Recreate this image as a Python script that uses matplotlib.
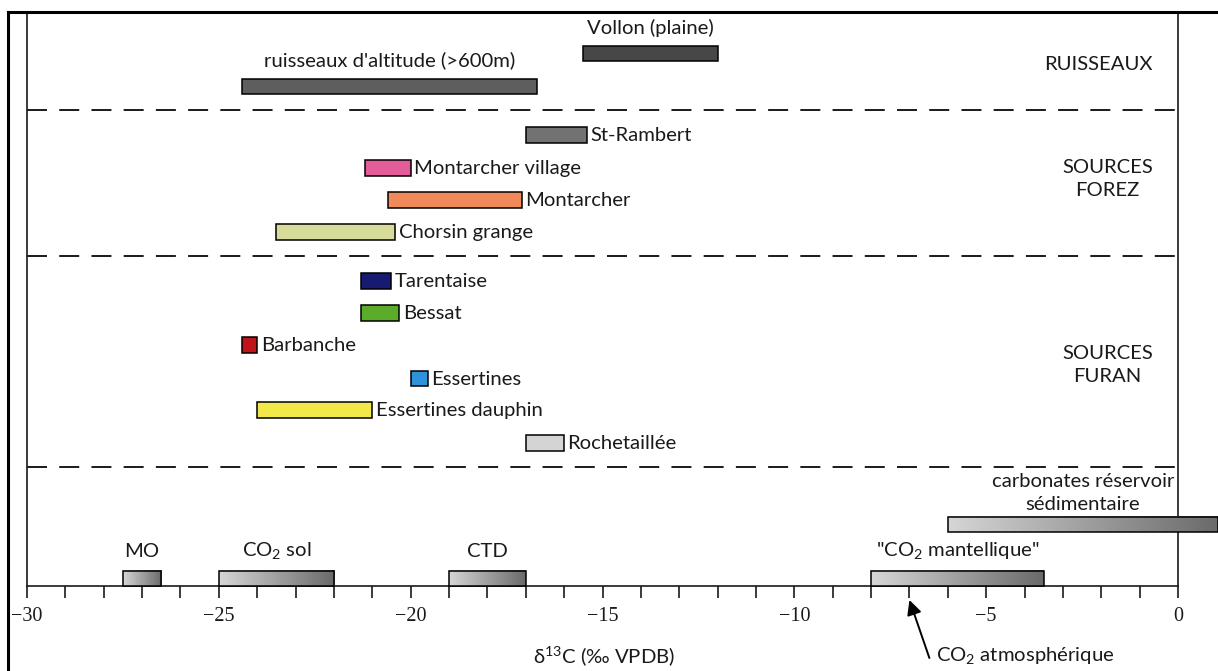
import matplotlib
matplotlib.use("Agg")
import matplotlib.pyplot as plt
import numpy as np
from matplotlib.patches import Rectangle
from matplotlib.lines import Line2D
from matplotlib.colors import LinearSegmentedColormap

plt.rcParams['font.family'] = ['Lato', 'DejaVu Sans']
plt.rcParams['lines.scale_dashes'] = False

# delta13C ranges (per mil VPDB): lower and upper bound of each site
stream_names = ["Vollon (plaine)", "ruisseaux d'altitude (>600m)"]
stream_lo = [-15.5, -24.4]
stream_hi = [-12.0, -16.7]

forez_names = ["St-Rambert", "Montarcher village", "Montarcher", "Chorsin grange"]
forez_lo = [-17.0, -21.2, -20.6, -23.5]
forez_hi = [-15.4, -20.0, -17.1, -20.4]

furan_names = ["Tarentaise", "Bessat", "Barbanche", "Essertines",
               "Essertines dauphin", "Rochetaillée"]
furan_lo = [-21.3, -21.3, -24.4, -20.0, -24.0, -17.0]
furan_hi = [-20.5, -20.3, -24.0, -19.55, -21.0, -16.0]

# reference carbon pools
ref_names = ["MO", "CO$_\\mathregular{2}$ sol", "CTD",
             "\"CO$_\\mathregular{2}$ mantellique\"",
             "carbonates réservoir\nsédimentaire"]
ref_lo = [-27.5, -25.0, -19.0, -8.0, -6.0]
ref_hi = [-26.5, -22.0, -17.0, -3.5, 1.05]

atmospheric_co2 = -7.0
x_ticks = list(range(-30, 1, 5))

group_names = ["RUISSEAUX", "SOURCES\nFOREZ", "SOURCES\nFURAN"]

# styling
stream_colors = ["#474747", "#5e5e5e"]
forez_colors = ["#727272", "#e25c9a", "#f08a5a", "#d8dc9a"]
furan_colors = ["#161a70", "#5aac2a", "#c01418", "#2f93dc", "#f2e84a", "#d4d4d4"]
text_color = "#1a1a1a"

# vertical layout, in pixel rows from the top of the figure
stream_y = [53.5, 86.5]
forez_y = [135, 168, 200, 232]
furan_y = [281, 313, 345, 378.5, 410, 443]
ref_y = [578.5, 578.5, 578.5, 578.5, 524.5]
group_y = [64, 179, 365]
divider_y = [110, 256, 467]
bar_h = 15.5

W, H = 1218, 671
fig = plt.figure(figsize=(W / 100, H / 100), dpi=100)
left_px, right_px = 27, 1178
top_px, axis_px = 12, 586
ax = fig.add_axes([left_px / W, 1 - axis_px / H,
                   (right_px - left_px) / W, (axis_px - top_px) / H])

LABEL_FS = 14.6
LINE_SP = 1.38


def labelled_bars(names, lo, hi, ys, colors):
    for n, a, b, y, c in zip(names, lo, hi, ys, colors):
        ax.barh(y, b - a, left=a, height=bar_h, color=c,
                edgecolor="black", linewidth=1.1, zorder=3)
        ax.annotate(n, xy=(b, y), xytext=(2.5, -0.5), textcoords="offset points",
                    ha="left", va="center", fontsize=LABEL_FS, color=text_color)


# stream bars carry their label above
for n, a, b, y, c in zip(stream_names, stream_lo, stream_hi, stream_y, stream_colors):
    ax.barh(y, b - a, left=a, height=bar_h, color=c,
            edgecolor="black", linewidth=1.1, zorder=3)
    ax.text((a + b) / 2, y - 26, n, ha="center", va="center",
            fontsize=LABEL_FS, color=text_color)

labelled_bars(forez_names, forez_lo, forez_hi, forez_y, forez_colors)
labelled_bars(furan_names, furan_lo, furan_hi, furan_y, furan_colors)

# reference pools drawn with a light-to-dark gradient
grad = LinearSegmentedColormap.from_list("grey_ramp", ["#d6d6d6", "#6a6a6a"])
ramp = np.linspace(0, 1, 256).reshape(1, -1)
for n, a, b, y in zip(ref_names, ref_lo, ref_hi, ref_y):
    ax.imshow(ramp, cmap=grad, aspect="auto", interpolation="bilinear",
              extent=(a, b, y + bar_h / 2, y - bar_h / 2), zorder=3, clip_on=False)
    ax.add_patch(Rectangle((a, y - bar_h / 2), b - a, bar_h, fill=False,
                           edgecolor="black", linewidth=1.1, zorder=4, clip_on=False))
    if "\n" in n:
        ax.text((a + b) / 2, y - bar_h / 2 - 4, n, ha="center", va="bottom",
                fontsize=LABEL_FS, color=text_color, linespacing=LINE_SP)
    else:
        ax.text((a + b) / 2, y - 27, n, ha="center", va="center",
                fontsize=LABEL_FS, color=text_color)

# group captions on the right
for g, y in zip(group_names, group_y):
    ax.annotate(g, xy=(1, y), xycoords=("axes fraction", "data"),
                xytext=(1153 - right_px, 0), textcoords="offset pixels",
                ha="right", va="center", multialignment="center",
                fontsize=LABEL_FS, color=text_color, linespacing=LINE_SP)

# dashed dividers between groups
for y in divider_y:
    ax.axhline(y, color="#1a1a1a", linewidth=1.4, dashes=(14.4, 8.8), zorder=1)

ax.set_xlim(-30, 0)
ax.set_ylim(axis_px, top_px)

# axis styling
ax.set_xticks(x_ticks)
ax.set_xticks(range(-30, 1), minor=True)
ax.set_yticks([])
ax.tick_params(axis="x", which="both", direction="out", length=8.8, width=1.2,
               color="#1a1a1a", pad=6)
for lab in ax.get_xticklabels():
    lab.set_fontfamily("Liberation Serif")
    lab.set_fontsize(14.5)
    lab.set_color(text_color)
ax.spines["top"].set_visible(False)
for s in ("left", "right", "bottom"):
    ax.spines[s].set_linewidth(1.2)
    ax.spines[s].set_color("#1a1a1a")

# outer frame lines
fig.add_artist(Line2D([8 / W, 1.0], [1 - 12 / H, 1 - 12 / H],
                      transform=fig.transFigure, color="black", linewidth=2.2))
fig.add_artist(Line2D([8 / W, 8 / W], [1 - 12 / H, 0.0],
                      transform=fig.transFigure, color="black", linewidth=2.2))

# atmospheric CO2 marker
ax.annotate("", xy=(atmospheric_co2, 600), xytext=(atmospheric_co2 + 0.52, 658),
            annotation_clip=False,
            arrowprops=dict(arrowstyle="-|>", color="black", lw=1.4,
                            mutation_scale=22, shrinkA=0, shrinkB=0))
ax.text(atmospheric_co2 + 0.70, 656, "CO$_\\mathregular{2}$ atmosphérique",
        ha="left", va="center", fontsize=LABEL_FS, color=text_color, clip_on=False)

fig.text(604 / W, 1 - 657 / H, "δ$^\\mathregular{13}$C (‰ VPDB)",
         ha="center", va="center", fontsize=LABEL_FS, color=text_color)

fig.savefig("out.png", dpi=100)
